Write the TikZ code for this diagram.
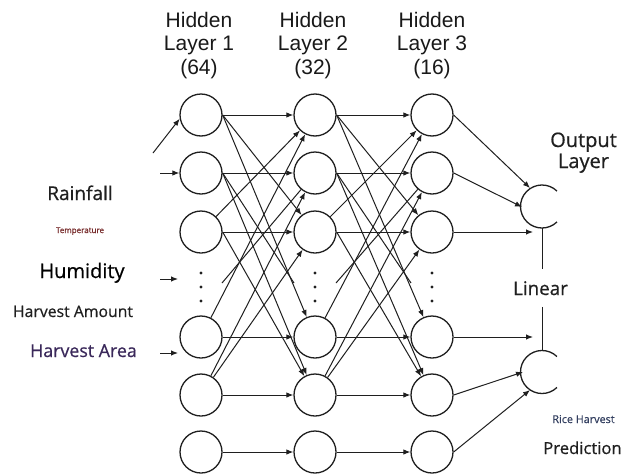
\documentclass[tikz,border=0pt]{standalone}
\usepackage{fontspec}
\setmainfont{Liberation Sans}
\newfontfamily\labelfont[FakeBold=0.6]{Open Sans}
\usetikzlibrary{arrows.meta}
\definecolor{areapurple}{RGB}{58,40,90}
\definecolor{tempred}{RGB}{120,45,45}
\definecolor{riceblue}{RGB}{50,62,95}
\begin{document}
\begin{tikzpicture}[x=1pt,y=-1pt,
  neuron/.style={circle,draw=black!88,line width=1.3pt,minimum size=42pt,inner sep=0pt},
  conn/.style={draw=black!88,line width=1pt,-{Latex[length=7pt,width=5.5pt]}},
  plain/.style={draw=black!88,line width=1pt},
  ring/.style={draw=black!88,line width=1.3pt},
  hdr/.style={font=\fontsize{21}{23}\selectfont,anchor=base,inner sep=0pt,text=black!90},
  lbl/.style={font=\labelfont\fontsize{#1}{#1}\selectfont,anchor=base,inner sep=0pt,text=black!88}
]
\fill[white] (0,0) rectangle (623,474);
\useasboundingbox (0,0) rectangle (623,474);

% hidden layers: six neurons per column, dots in place of the fourth
\foreach \c/\x in {1/201,2/315,3/432}{
  \foreach \r/\y in {1/115,2/173,3/232,5/337,6/395,7/452}{
    \node[neuron] (c\c-\r) at (\x,\y) {};
  }
  \foreach \y in {273,287,301} \fill[black!88] (\x,\y) circle (1.6pt);
  \pgfmathsetmacro{\xin}{\x-21}
  \pgfmathsetmacro{\xout}{\x+21}
  \coordinate (v\c-in) at (\xin,283);
  \coordinate (v\c-out) at (\xout,283);
}

% layer headings
\foreach \x/\n/\k in {199/1/64,313/2/32,432/3/16}{
  \node[hdr] (hA\n) at (\x,27) {Hidden};
  \node[hdr] (hB\n) at (\x,50) {Layer \n};
  \node[hdr] (hC\n) at (\x,74) {(\k)};
}

% connections between hidden layers
\foreach \a/\b in {1/2,2/3}{
  \foreach \r in {1,2,3,5,6,7} \draw[conn] (c\a-\r) -- (c\b-\r);
  % downward
  \draw[conn] (c\a-1.east) -- (c\b-3);
  \draw[conn] (c\a-1.east) -- (c\b-5);
  \draw[conn] (c\a-2.east) -- (c\b-6);
  \draw[conn] (c\a-3.east) -- (c\b-6);
  \draw[plain] (c\a-2.east) -- (v\b-in);
  % upward
  \draw[conn] (c\a-3) -- (c\b-1);
  \draw[conn] (c\a-5) -- (c\b-1);
  \draw[conn] (c\a-6) -- (c\b-2);
  \draw[conn] (c\a-6) -- (c\b-3);
  \draw[plain] (v\a-out) -- (c\b-2);
}

% inputs
\node[lbl=19] (rain) at (80,200) {Rainfall};
\node[lbl=8,text=tempred] (temp) at (80,233) {Temperature};
\node[lbl=20,text=black] (hum) at (82,278) {Humidity};
\node[lbl=15.8] (hamt) at (73,317) {Harvest Amount};
\node[lbl=17.8,text=areapurple] (harea) at (83.5,357) {Harvest Area};

\coordinate (in1) at (153,153);
\coordinate (in2) at (160,173);
\coordinate (in4a) at (160,279);
\coordinate (in4b) at (178,279);
\coordinate (in5a) at (160,353);
\coordinate (in5b) at (178,353);
\draw[conn] (in1) -- (c1-1.190);
\draw[conn] (in2) -- (c1-2.west);
\draw[conn] (in4a) -- (in4b);
\draw[conn] (in5a) -- (in5b);

% output layer
\coordinate (o1) at (542,206.5);
\coordinate (o2) at (542,372);
\draw[ring] ([shift={(46:21.5pt)}]o1) arc[start angle=46,end angle=314,radius=21.5pt];
\draw[ring] ([shift={(46:21.5pt)}]o2) arc[start angle=46,end angle=314,radius=21.5pt];
\coordinate (o1b) at (542,228);
\coordinate (o2t) at (542,350.5);

\node[lbl=20] (outA) at (583.5,147) {Output};
\node[lbl=20] (outB) at (583.5,168) {Layer};
\node[lbl=18.8,inner ysep=11.6pt] (lin) at (540.5,295) {Linear};
\node[lbl=10.8,text=riceblue] (rice) at (583.5,423) {Rice Harvest};
\node[lbl=16.6] (pred) at (582.5,454) {Prediction};

\draw[plain] (o1b) -- (o1b |- lin.north);
\draw[plain] (o2t |- lin.south) -- (o2t);

\coordinate (t1) at (530,188);
\coordinate (t2) at (522,207);
\coordinate (t3) at (533,232);
\coordinate (t5) at (533,337);
\coordinate (t6) at (523,372);
\coordinate (t7) at (530,390);
\draw[conn] (c3-1.east) -- (t1);
\draw[conn] (c3-2.east) -- (t2);
\draw[conn] (c3-3.east) -- (t3);
\draw[conn] (c3-5.east) -- (t5);
\draw[conn] (c3-6.east) -- (t6);
\draw[conn] (c3-7.east) -- (t7);
\end{tikzpicture}
\end{document}
